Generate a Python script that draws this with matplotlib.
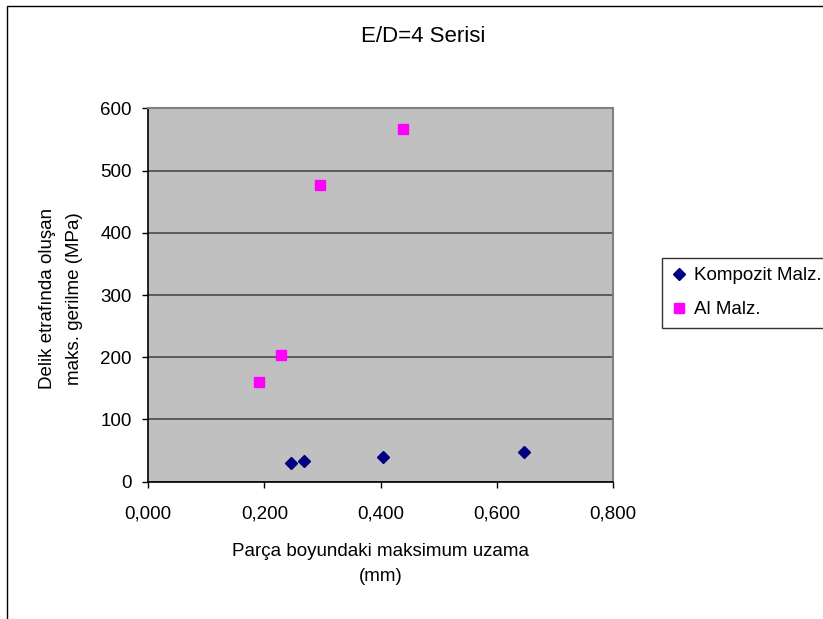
import matplotlib
matplotlib.use("Agg")
import matplotlib.pyplot as plt
from matplotlib.ticker import FuncFormatter
from matplotlib.patches import Rectangle

plt.rcParams['font.family'] = ['Liberation Sans', 'DejaVu Sans']

title = "E/D=4 Serisi"
xlabel = "Parça boyundaki maksimum uzama\n(mm)"
ylabel = "Delik etrafında oluşan\nmaks. gerilme (MPa)"

komp_name = "Kompozit Malz."
komp_x = [0.246, 0.269, 0.405, 0.648]
komp_y = [30, 33, 39, 48]

al_name = "Al Malz."
al_x = [0.190, 0.229, 0.296, 0.439]
al_y = [161, 204, 476, 566]

xticks = [0.0, 0.2, 0.4, 0.6, 0.8]
yticks = [0, 100, 200, 300, 400, 500, 600]

W, H = 823, 619
fig = plt.figure(figsize=(W / 100, H / 100), dpi=100)

# chart area border (extends beyond right/bottom edge)
fig.patches.append(Rectangle((7 / W, -0.1), 1.2, 1 - 6 / H + 0.1,
                             transform=fig.transFigure, fill=False,
                             edgecolor='black', linewidth=1.0))

ax = fig.add_axes([148.3 / W, 1 - 481.7 / H, (612.7 - 148.3) / W, (481.7 - 108.3) / H])
ax.set_facecolor('#C0C0C0')

ax.plot(komp_x, komp_y, linestyle='none', marker='D', markersize=6.2,
        color='#000080', markeredgecolor='#000080', label=komp_name, zorder=3)
ax.plot(al_x, al_y, linestyle='none', marker='s', markersize=7.6,
        color='#FF00FF', markeredgecolor='#FF00FF', label=al_name, zorder=3)

ax.set_xlim(0, 0.8)
ax.set_ylim(0, 600)
ax.set_xticks(xticks)
ax.set_yticks(yticks)
ax.xaxis.set_major_formatter(FuncFormatter(lambda v, p: f"{v:.3f}".replace('.', ',')))
ax.yaxis.set_major_formatter(FuncFormatter(lambda v, p: f"{int(round(v))}"))

ax.grid(axis='y', color='#4a4a4a', linewidth=1.2)
ax.set_axisbelow(True)

for s in ['left', 'bottom']:
    ax.spines[s].set_color('black')
    ax.spines[s].set_linewidth(1.2)
for s in ['top', 'right']:
    ax.spines[s].set_color('#808080')
    ax.spines[s].set_linewidth(1.5)

ax.tick_params(axis='both', direction='out', length=4, width=1, color='black',
               labelsize=13.5, labelcolor='black')
ax.tick_params(axis='x', pad=13)
ax.tick_params(axis='y', pad=8)

ax.set_xlabel(xlabel, fontsize=13.5, linespacing=1.55)
ax.xaxis.label.set_va('center')
ax.xaxis.set_label_coords(0.5, (481.7 - 564) / (481.7 - 108.3))

ax.set_ylabel(ylabel, fontsize=13.5, linespacing=1.8)
ax.yaxis.label.set_va('center')
ax.yaxis.set_label_coords((61 - 148.3) / (612.7 - 148.3), 0.49)

fig.text(423 / W, 1 - 36 / H, title, ha='center', va='center', fontsize=16)

leg = fig.legend(loc='upper left', bbox_to_anchor=(662 / W, 1 - 258 / H),
                 bbox_transform=fig.transFigure, frameon=True, fancybox=False,
                 shadow=False, fontsize=13.5, handlelength=0.8,
                 handletextpad=0.4, borderpad=0.5, labelspacing=0.9,
                 borderaxespad=0)
leg.get_frame().set_edgecolor('black')
leg.get_frame().set_linewidth(1.0)

fig.savefig('out.png', dpi=100, facecolor='white')
